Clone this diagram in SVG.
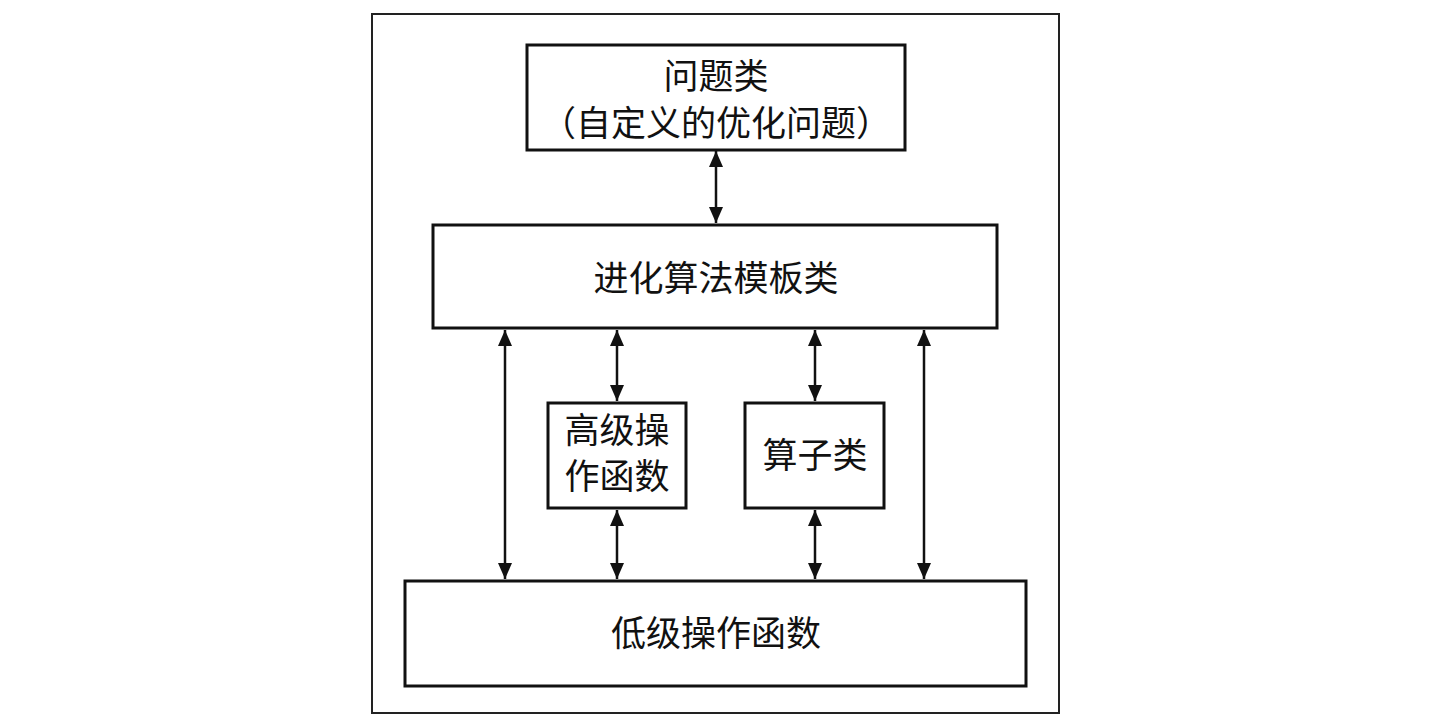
<svg xmlns="http://www.w3.org/2000/svg" width="1442" height="726" viewBox="0 0 1442 726">
<style>
.box{fill:#fff;stroke:#111;stroke-width:3}
.frame{fill:#fff;stroke:#222;stroke-width:2}
.t{font-family:"Noto Sans CJK SC","Noto Sans",sans-serif;font-size:35px;fill:#111;text-anchor:middle}
.c{stroke:#111;stroke-width:2.5;fill:none;marker-start:url(#ah);marker-end:url(#ah)}
</style>
<defs>
<marker id="ah" markerUnits="userSpaceOnUse" markerWidth="16" markerHeight="16" viewBox="0 0 16 14" refX="16" refY="7" orient="auto-start-reverse">
<path d="M0,0 L16,7 L0,14 z" fill="#111"/>
</marker>
</defs>
<rect width="1442" height="726" fill="#fff"/>
<rect class="frame" x="372" y="14" width="687" height="699"/>
<g id="problem">
<rect class="box" x="527" y="45" width="378" height="105"/>
<text class="t" x="716" y="89">问题类</text>
<text class="t" x="716" y="136">（自定义的优化问题）</text>
</g>
<g id="template">
<rect class="box" x="433" y="225" width="564" height="103"/>
<text class="t" x="716" y="291">进化算法模板类</text>
</g>
<g id="highlevel">
<rect class="box" x="548" y="403" width="138" height="105"/>
<text class="t" x="617" y="443">高级操</text>
<text class="t" x="617" y="489">作函数</text>
</g>
<g id="operator">
<rect class="box" x="745" y="403" width="139" height="105"/>
<text class="t" x="815" y="468">算子类</text>
</g>
<g id="lowlevel">
<rect class="box" x="405" y="581" width="621" height="105"/>
<text class="t" x="716" y="646">低级操作函数</text>
</g>
<g id="connectors">
<line class="c" x1="716" y1="151" x2="716" y2="223"/>
<line class="c" x1="505" y1="330" x2="505" y2="579"/>
<line class="c" x1="617" y1="330" x2="617" y2="401"/>
<line class="c" x1="815" y1="330" x2="815" y2="401"/>
<line class="c" x1="924" y1="330" x2="924" y2="579"/>
<line class="c" x1="617" y1="510" x2="617" y2="579"/>
<line class="c" x1="815" y1="510" x2="815" y2="579"/>
</g>
</svg>
